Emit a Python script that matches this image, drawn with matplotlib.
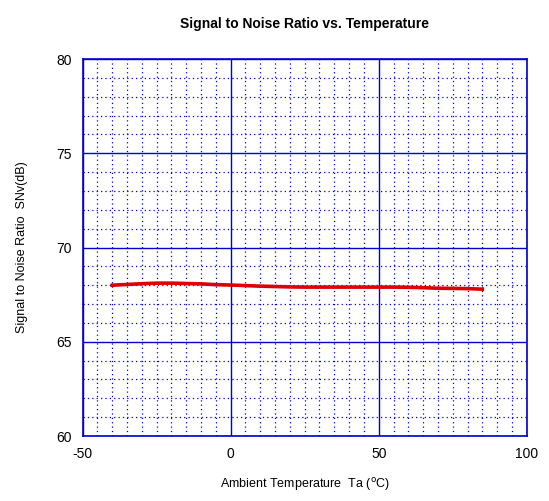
import numpy as np
import matplotlib.pyplot as plt
from matplotlib.ticker import MultipleLocator

plt.rcParams['font.family'] = ['Liberation Sans', 'DejaVu Sans']
plt.rcParams['axes.unicode_minus'] = False

# Data
temperature = [-40, -35, -30, -25, -20, -15, -10, -5, 0, 5, 10, 15, 20,
               25, 30, 35, 40, 45, 50, 55, 60, 65, 70, 75, 80, 85]
snr_db = [68.00, 68.04, 68.08, 68.11, 68.11, 68.09, 68.07, 68.03, 68.01, 67.98,
          67.95, 67.93, 67.91, 67.90, 67.90, 67.90, 67.90, 67.90, 67.90, 67.90,
          67.89, 67.87, 67.84, 67.83, 67.82, 67.79]

fig = plt.figure(figsize=(5.49, 5.01), dpi=100)
ax = fig.add_axes([0.1506, 0.1297, 0.8088, 0.7525])

ax.plot(temperature, snr_db, color='#dd0000', linewidth=2.6, zorder=3)

ax.set_xlim(-50, 100)
ax.set_ylim(60, 80)
ax.xaxis.set_major_locator(MultipleLocator(50))
ax.xaxis.set_minor_locator(MultipleLocator(5))
ax.yaxis.set_major_locator(MultipleLocator(5))
ax.yaxis.set_minor_locator(MultipleLocator(1))

ax.grid(which='major', color='#0000cc', linestyle='-', linewidth=1.0)
ax.grid(which='minor', color='#0000ee', linestyle=(0, (1, 2.5)), linewidth=0.9)
ax.tick_params(which='both', length=0, labelsize=10, pad=8)

for side in ax.spines.values():
    side.set_color('#0000cc')
    side.set_linewidth(1.2)

ax.set_title('Signal to Noise Ratio vs. Temperature', fontsize=10, fontweight='bold', pad=22)
ax.set_xlabel('Ambient Temperature  Ta ($^{\\rm o}$C)', fontsize=9, labelpad=11)
ax.set_ylabel('Signal to Noise Ratio  SNv(dB)', fontsize=9, labelpad=20)

fig.savefig('out.png', dpi=100)
